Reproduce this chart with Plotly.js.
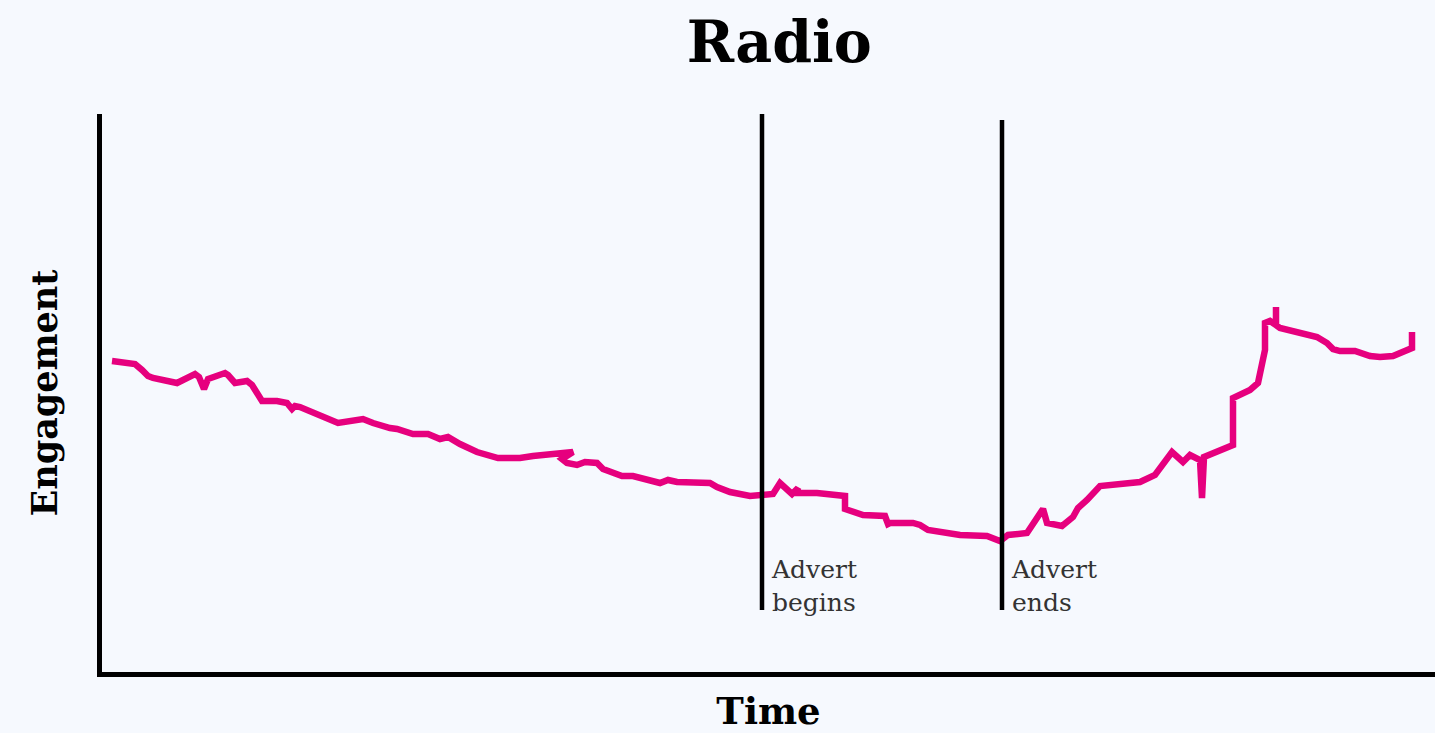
<!DOCTYPE html>
<html>
<head>
<meta charset="utf-8">
<script src="https://cdn.plot.ly/plotly-3.0.1.min.js"></script>
<style>
  html, body { margin: 0; padding: 0; background: #f6f9fe; }
  #chart { width: 1435px; height: 733px; }
</style>
</head>
<body>
<div id="chart"></div>
<script>
// Time (arbitrary units) and engagement (arbitrary units)
const time = [15, 38, 45, 51, 56, 80, 98, 102, 107, 111, 128, 131, 138, 150, 155, 165, 180, 190, 195, 198, 203,
  241, 266, 276, 293, 300, 316, 331, 343, 351, 363, 380, 401, 423, 436, 460, 476, 465, 470, 480, 488, 500, 506,
  525, 536, 563, 571, 580, 600, 613, 620, 633, 653, 666, 676, 683, 695, 701, 700, 720, 748, 748, 766, 788, 789,
  791, 793, 816, 823, 831, 863, 890, 903, 911, 930, 946, 950, 965, 976, 981, 990, 1003, 1043, 1058, 1075, 1086,
  1093, 1103, 1105, 1107, 1136, 1136, 1153, 1161, 1168, 1168, 1173, 1179, 1179, 1179, 1183, 1220, 1230, 1236,
  1243, 1258, 1273, 1283, 1296, 1315, 1315];
const engagement = [311, 308, 302, 296, 294, 289, 298, 295, 283, 293, 299, 297, 289, 291, 287, 271, 271, 269, 263, 266, 265,
  249, 253, 249, 244, 243, 238, 238, 233, 235, 228, 220, 214, 214, 216, 218, 220, 213, 209, 207, 210, 209, 203,
  196, 196, 189, 192, 190, 189, 189, 185, 180, 176, 177, 178, 189, 178, 184, 179, 179, 176, 163, 157, 156, 152,
  148, 149, 149, 147, 142, 137, 136, 131, 137, 139, 163, 149, 146, 155, 164, 172, 186, 190, 197, 220, 210,
  217, 212, 174, 215, 227, 274, 282, 289, 322, 349, 351, 347, 365, 347, 344, 335, 329, 323,
  321, 321, 316, 315, 316, 324, 340];

// Advert markers
const advertTimes = [665, 905];
const advertTops = [559, 552];
const advertBottom = 62;
const advertLabels = ["Advert<br>begins", "Advert<br>ends"];

const titleText = "Radio";
const xTitle = "Time";
const yTitle = "Engagement";

const bg = "#f6f9fe";
const pink = "#e6007e";

const shapes = advertTimes.map((t, i) => ({
  type: "line", xref: "x", yref: "y",
  x0: t, x1: t, y0: advertBottom, y1: advertTops[i],
  line: { color: "#000", width: 4.5 }
}));

const annotations = advertTimes.map((t, i) => ({
  x: t, y: advertBottom, xref: "x", yref: "y",
  xanchor: "left", yanchor: "bottom", xshift: 7, yshift: -9,
  align: "left", showarrow: false, text: advertLabels[i],
  font: { family: "DejaVu Serif, serif", size: 25, color: "#333" }
}));

const data = [{
  x: time, y: engagement, type: "scatter", mode: "lines",
  line: { color: pink, width: 6.5, shape: "linear" },
  hoverinfo: "skip"
}];

const layout = {
  width: 1435, height: 733,
  paper_bgcolor: bg, plot_bgcolor: bg,
  margin: { l: 102, r: 0, t: 114, b: 61 },
  showlegend: false,
  title: {
    text: titleText, xref: "container", yref: "container",
    x: 0.543, y: 0.943, xanchor: "center", yanchor: "middle",
    font: { family: "DejaVu Serif, serif", size: 57, color: "#000", weight: 700 }
  },
  xaxis: {
    range: [5, 1338], showgrid: false, zeroline: false, showticklabels: false, ticks: "",
    showline: true, linecolor: "#000", linewidth: 5,
    title: { text: xTitle, standoff: 26, font: { family: "DejaVu Serif, serif", size: 37, color: "#000", weight: 700 } }
  },
  yaxis: {
    range: [0, 558], showgrid: false, zeroline: false, showticklabels: false, ticks: "",
    showline: true, linecolor: "#000", linewidth: 5,
    title: { text: yTitle, standoff: 30, font: { family: "DejaVu Serif, serif", size: 35, color: "#000", weight: 700 } }
  },
  shapes: shapes,
  annotations: annotations
};

Plotly.newPlot("chart", data, layout, { staticPlot: true, displayModeBar: false });
</script>
</body>
</html>
